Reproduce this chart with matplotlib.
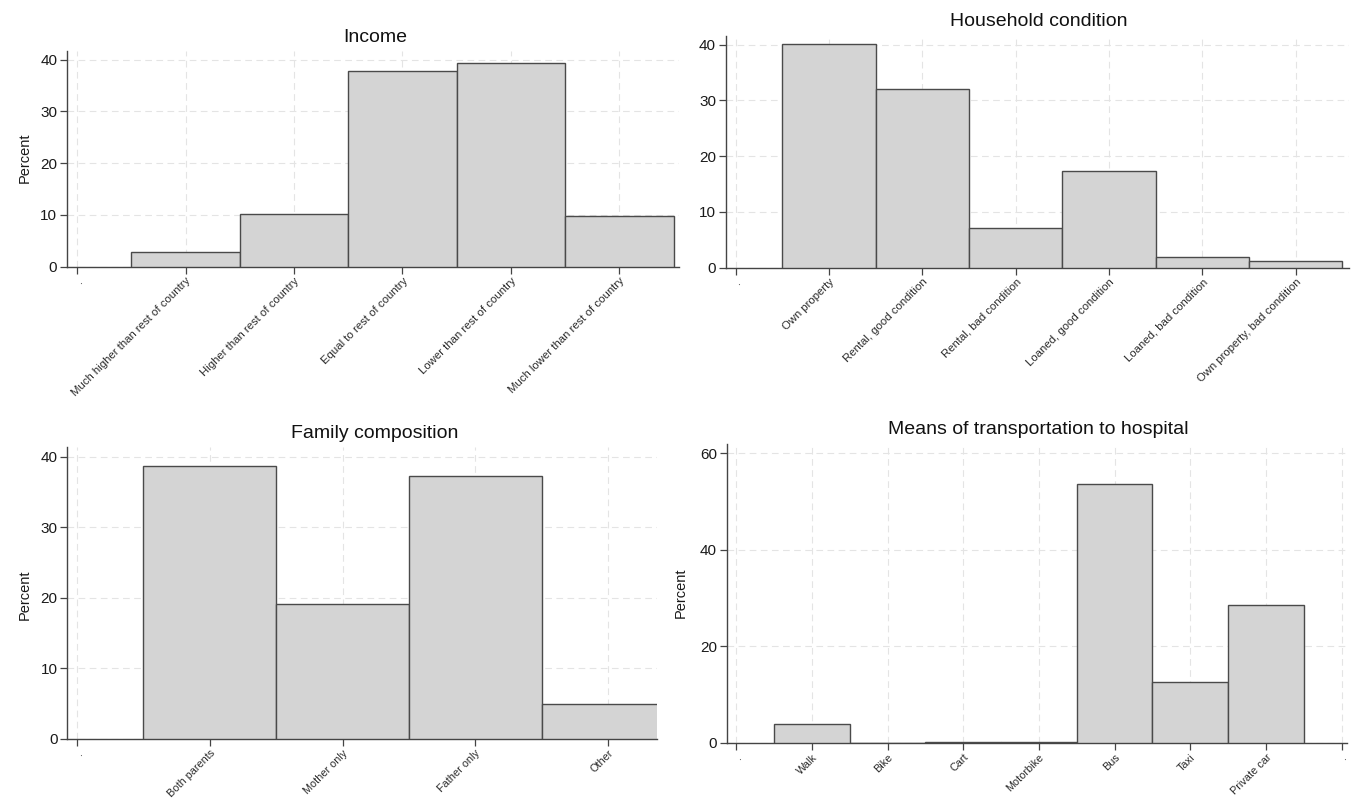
import matplotlib
matplotlib.use('Agg')
import matplotlib.pyplot as plt

plt.rcParams['font.family'] = ['Liberation Sans', 'DejaVu Sans']

# percentages
income_labels = ['Much higher than rest of country', 'Higher than rest of country',
                 'Equal to rest of country', 'Lower than rest of country',
                 'Much lower than rest of country']
income_pct = [2.9, 10.1, 37.7, 39.4, 9.7]

household_labels = ['Own property', 'Rental, good condition', 'Rental, bad condition',
                    'Loaned, good condition', 'Loaned, bad condition',
                    'Own property, bad condition']
household_pct = [40.1, 32.0, 7.1, 17.3, 2.0, 1.2]

family_labels = ['Both parents', 'Mother only', 'Father only', 'Other']
family_pct = [38.6, 19.1, 37.3, 4.9]

transport_labels = ['Walk', 'Bike', 'Cart', 'Motorbike', 'Bus', 'Taxi', 'Private car']
transport_pct = [4.0, 0.0, 0.3, 0.3, 53.6, 12.6, 28.6]

W, H = 1353, 798
fig = plt.figure(figsize=(W / 100, H / 100), dpi=100)


def panel(rect, labels, values, xlim, ylim, yticks, title, title_xy, ylab_xy,
          trailing_dot=False, xfs=8.2):
    ax = fig.add_axes(rect)
    pos = list(range(1, len(values) + 1))
    ax.bar(pos, values, width=1.0, color='#d4d4d4', edgecolor='#4a4a4a', linewidth=1.0, zorder=3)
    ticks = [0] + pos
    ticklabels = ['.'] + labels
    if trailing_dot:
        ticks.append(len(values) + 1)
        ticklabels.append('.')
    ax.set_xticks(ticks)
    ax.set_xticklabels(ticklabels, rotation=45, ha='right', va='top',
                       rotation_mode='anchor', fontsize=xfs, color='#2a2a2a')
    ax.set_yticks(yticks)
    ax.set_yticklabels([str(t) for t in yticks], fontsize=11, color='#1a1a1a')
    ax.set_xlim(*xlim)
    ax.set_ylim(*ylim)
    ax.grid(True, color='#e4e4e4', linestyle=(0, (6, 4)), linewidth=0.8, zorder=0)
    for s in ['top', 'right']:
        ax.spines[s].set_visible(False)
    for s in ['left', 'bottom']:
        ax.spines[s].set_color('#444444')
        ax.spines[s].set_linewidth(1.0)
    ax.tick_params(axis='both', direction='out', length=5, width=0.9, color='#444444', pad=2)
    ax.tick_params(axis='x', pad=1.5)
    fig.text(title_xy[0] / W, 1 - title_xy[1] / H, title, ha='center', va='center',
             fontsize=14, color='#111111')
    if ylab_xy is not None:
        fig.text(ylab_xy[0] / W, 1 - ylab_xy[1] / H, 'Percent', rotation=90,
                 ha='center', va='center', fontsize=10.5, color='#1a1a1a')
    return ax


def rect_px(left, right, top, bottom):
    return [left / W, 1 - bottom / H, (right - left) / W, (bottom - top) / H]


panel(rect_px(67, 679, 50.7, 266.7), income_labels, income_pct,
      (-0.094, 5.55), (0, 41.7), [0, 10, 20, 30, 40], 'Income', (375, 37), (25, 158))

panel(rect_px(725.7, 1349, 35.8, 267.7), household_labels, household_pct,
      (-0.107, 6.57), (0, 41.6), [0, 10, 20, 30, 40], 'Household condition', (1039, 21), None)

panel(rect_px(67.2, 657, 447.4, 739), family_labels, family_pct,
      (-0.075, 4.37), (0, 41.3), [0, 10, 20, 30, 40], 'Family composition', (375, 434), (25, 595),
      xfs=7.8)

panel(rect_px(726.5, 1347, 444, 743), transport_labels, transport_pct,
      (-0.128, 8.07), (0, 61.9), [0, 20, 40, 60], 'Means of transportation to hospital',
      (1038, 430), (681, 593), trailing_dot=True, xfs=7.8)

fig.savefig('out.png', dpi=100, facecolor='white')
